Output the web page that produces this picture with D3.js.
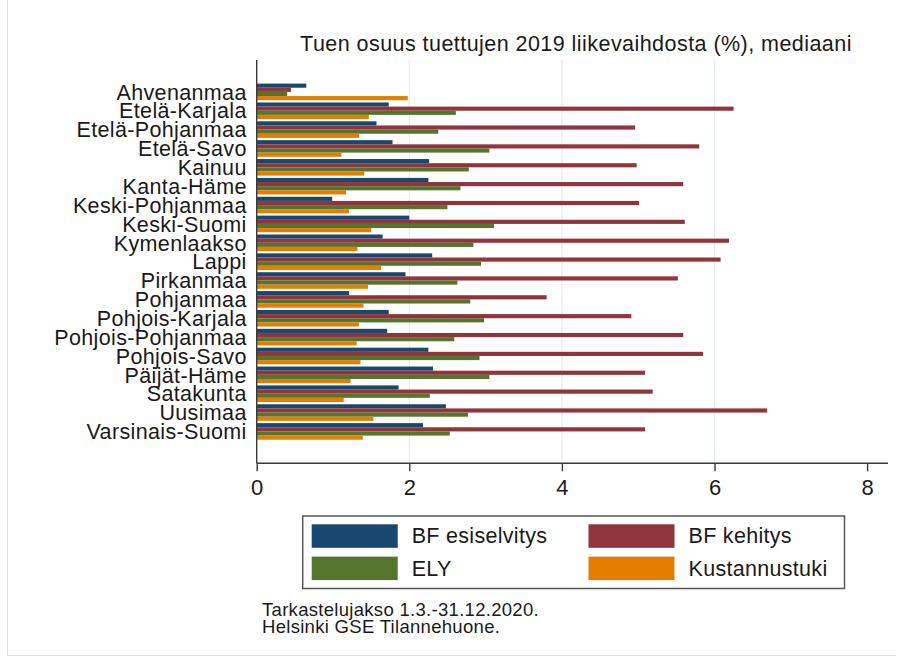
<!DOCTYPE html>
<html lang="fi">
<head>
<meta charset="utf-8">
<title>Tuen osuus</title>
<script src="https://d3js.org/d3.v7.min.js"></script>
<style>
  body { margin: 0; background: #fff; }
  text { font-family: "Liberation Sans", Arial, sans-serif; fill: #1a1a1a; }
</style>
</head>
<body>
<script>
// regions in display order
var categories = ["Ahvenanmaa", "Etelä-Karjala", "Etelä-Pohjanmaa", "Etelä-Savo", "Kainuu",
  "Kanta-Häme", "Keski-Pohjanmaa", "Keski-Suomi", "Kymenlaakso", "Lappi", "Pirkanmaa",
  "Pohjanmaa", "Pohjois-Karjala", "Pohjois-Pohjanmaa", "Pohjois-Savo", "Päijät-Häme",
  "Satakunta", "Uusimaa", "Varsinais-Suomi"];

var seriesNames = ["BF esiselvitys", "BF kehitys", "ELY", "Kustannustuki"];
var seriesColors = ["#1a476f", "#90353b", "#55752f", "#e37e00"];

var bfEsiselvitys = [0.65, 1.73, 1.57, 1.78, 2.26, 2.25, 0.99, 2.00, 1.65, 2.30, 1.95, 1.21, 1.73, 1.71, 2.25, 2.31, 1.86, 2.48, 2.18];
var bfKehitys     = [0.45, 6.25, 4.96, 5.80, 4.98, 5.59, 5.01, 5.61, 6.19, 6.08, 5.52, 3.80, 4.91, 5.59, 5.85, 5.09, 5.19, 6.69, 5.09];
var ely           = [0.40, 2.61, 2.38, 3.05, 2.78, 2.67, 2.50, 3.11, 2.84, 2.94, 2.63, 2.80, 2.98, 2.59, 2.92, 3.05, 2.27, 2.77, 2.53];
var kustannustuki = [1.98, 1.47, 1.34, 1.11, 1.41, 1.17, 1.21, 1.50, 1.32, 1.63, 1.46, 1.40, 1.34, 1.31, 1.36, 1.23, 1.14, 1.53, 1.39];

var xTicks = [0, 2, 4, 6, 8];
var titleText = "Tuen osuus tuettujen 2019 liikevaihdosta (%), mediaani";
var noteLines = ["Tarkastelujakso 1.3.-31.12.2020.", "Helsinki GSE Tilannehuone."];

var allSeries = [bfEsiselvitys, bfKehitys, ely, kustannustuki];

var W = 902, H = 660;
var plot = {left: 256.7, right: 888, top: 60, bottom: 463.3};

var svg = d3.select("body").append("svg")
  .attr("width", W)
  .attr("height", H);

// faint outer frame of the screenshot
svg.append("line").attr("x1", 7.5).attr("x2", 7.5).attr("y1", 0).attr("y2", 656)
  .attr("stroke", "#e2e2e2");
svg.append("line").attr("x1", 7.5).attr("x2", 896).attr("y1", 655.5).attr("y2", 655.5)
  .attr("stroke", "#e2e2e2");

var x = d3.scaleLinear()
  .domain([0, 8])
  .range([plot.left, plot.left + 8 * 76.3]);

var y = d3.scaleBand()
  .domain(categories)
  .range([plot.top, plot.bottom])
  .paddingInner(0.12)
  .paddingOuter(1.25);

var yInner = d3.scaleBand()
  .domain(d3.range(seriesNames.length))
  .range([0, y.bandwidth()]);

// gridlines
svg.append("g")
  .selectAll("line")
  .data(xTicks.filter(function(t) { return t > 0 && t < 8; }))
  .enter().append("line")
  .attr("x1", function(d) { return x(d); })
  .attr("x2", function(d) { return x(d); })
  .attr("y1", plot.top)
  .attr("y2", plot.bottom)
  .attr("stroke", "#e3ecf1")
  .attr("stroke-width", 1.2);

// bars
var groups = svg.append("g")
  .selectAll("g")
  .data(categories)
  .enter().append("g")
  .attr("transform", function(d) { return "translate(0," + y(d) + ")"; });

groups.selectAll("rect")
  .data(function(d, i) {
    return allSeries.map(function(s, k) { return {k: k, v: s[i]}; });
  })
  .enter().append("rect")
  .attr("x", x(0))
  .attr("y", function(d) { return yInner(d.k); })
  .attr("width", function(d) { return x(d.v) - x(0); })
  .attr("height", yInner.bandwidth())
  .attr("fill", function(d) { return seriesColors[d.k]; });

// y axis
var yAxis = svg.append("g")
  .attr("transform", "translate(" + plot.left + ",0)")
  .call(d3.axisLeft(y).tickSize(0).tickPadding(10));
yAxis.select(".domain").remove();
yAxis.selectAll("text")
  .style("font-size", "21.5px")
  .style("letter-spacing", "0.35px")
  .style("font-family", "'Liberation Sans', Arial, sans-serif")
  .attr("fill", "#1a1a1a")
  .attr("dy", "0.36em");
svg.append("line")
  .attr("x1", plot.left).attr("x2", plot.left)
  .attr("y1", plot.top).attr("y2", plot.bottom)
  .attr("stroke", "#3a3a3a").attr("stroke-width", 1.4);

// x axis
var xAxis = svg.append("g")
  .attr("transform", "translate(0," + plot.bottom + ")")
  .call(d3.axisBottom(x).tickValues(xTicks).tickSize(8).tickPadding(8).tickSizeOuter(0));
xAxis.select(".domain").remove();
xAxis.selectAll(".tick line").attr("stroke", "#3a3a3a").attr("stroke-width", 1.4);
xAxis.selectAll("text")
  .style("font-size", "22px")
  .style("font-family", "'Liberation Sans', Arial, sans-serif")
  .attr("fill", "#1a1a1a");
svg.append("line")
  .attr("x1", plot.left).attr("x2", plot.right)
  .attr("y1", plot.bottom).attr("y2", plot.bottom)
  .attr("stroke", "#3a3a3a").attr("stroke-width", 1.4);

// title
svg.append("text")
  .attr("x", 576)
  .attr("y", 51)
  .attr("text-anchor", "middle")
  .style("font-size", "21.5px")
  .style("letter-spacing", "0.45px")
  .text(titleText);

// legend
var legend = svg.append("g");
legend.append("rect")
  .attr("x", 302.7).attr("y", 516)
  .attr("width", 541.8).attr("height", 72.5)
  .attr("fill", "#fff")
  .attr("stroke", "#555").attr("stroke-width", 1.5);

var legendCols = [311.7, 588.5];
var legendRows = [524.3, 556.6];
var items = legend.selectAll("g")
  .data(seriesNames)
  .enter().append("g")
  .attr("transform", function(d, i) {
    return "translate(" + legendCols[i % 2] + "," + legendRows[Math.floor(i / 2)] + ")";
  });
items.append("rect")
  .attr("width", 86).attr("height", 23.5)
  .attr("fill", function(d, i) { return seriesColors[i]; });
items.append("text")
  .attr("x", 100)
  .attr("y", 19)
  .style("font-size", "21.5px")
  .style("letter-spacing", "0.3px")
  .text(function(d) { return d; });

// notes
svg.append("g")
  .selectAll("text")
  .data(noteLines)
  .enter().append("text")
  .attr("x", 262)
  .attr("y", function(d, i) { return 616 + i * 17.3; })
  .style("font-size", "18.5px")
  .style("letter-spacing", "0.3px")
  .text(function(d) { return d; });
</script>
</body>
</html>
